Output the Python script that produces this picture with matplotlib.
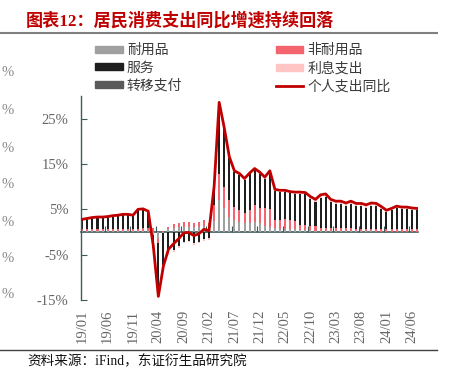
import numpy as np
import matplotlib
matplotlib.use('Agg')
import matplotlib.pyplot as plt
from matplotlib.patches import Patch
from matplotlib.lines import Line2D

plt.rcParams['font.family'] = ['Liberation Serif', 'Noto Sans CJK SC']

# monthly data 2019/01 - 2024/07, percent / percentage points
tick_labels = ['19/01', '19/06', '19/11', '20/04', '20/09', '21/02', '21/07',
               '21/12', '22/05', '22/10', '23/03', '23/08', '24/01', '24/06']

total = [2.8, 3.0, 3.2, 3.3, 3.3, 3.4, 3.6, 3.7, 3.9, 3.9, 3.7, 5.0, 5.1, 4.6,
         -3.0, -14.2, -7.5, -3.8, -2.6, -1.5, -0.2, -0.1, -0.8, -0.4, 0.6, 0.3,
         10.0, 28.6, 23.0, 16.6, 13.5, 12.9, 11.8, 13.0, 14.0, 13.2, 12.1, 13.5,
         9.4, 9.2, 9.2, 8.9, 8.8, 8.8, 8.7, 7.8, 7.2, 8.2, 8.4, 7.2,
         6.8, 6.8, 6.4, 6.8, 6.3, 6.3, 6.0, 6.4, 6.3, 5.6, 4.8, 5.2,
         5.7, 5.5, 5.5, 5.3, 5.2]

durables = [0.2, 0.2, 0.2, 0.2, 0.3, 0.3, 0.3, 0.3, 0.3, 0.2, 0.2, 0.2, 0.3, 0.3,
            -0.7, -1.6, -0.2, 0.6, 0.9, 1.0, 1.1, 1.1, 1.0, 1.0, 1.4, 1.0,
            2.5, 7.0, 5.2, 3.4, 2.6, 2.3, 1.9, 1.9, 2.3, 1.9, 1.3, 1.2,
            0.8, 0.7, 0.7, 0.7, 0.6, 0.5, 0.4, 0.4, 0.3, 0.3, 0.2, 0.2,
            0.2, 0.2, 0.3, 0.2, 0.2, 0.2, 0.2, 0.2, 0.1, 0.1, 0.1, 0.1,
            0.1, 0.1, 0.1, 0.1, 0.1]

nondurables = [0.4, 0.4, 0.4, 0.4, 0.4, 0.4, 0.4, 0.4, 0.4, 0.4, 0.4, 0.5, 0.5, 0.5,
               0.8, -0.9, 0.2, 0.6, 0.9, 1.0, 1.2, 1.1, 1.0, 1.1, 1.2, 1.0,
               3.5, 5.9, 4.8, 3.6, 2.9, 2.5, 2.2, 2.9, 3.7, 3.4, 3.9, 3.8,
               1.8, 2.0, 2.1, 2.0, 1.9, 1.1, 1.1, 1.0, 1.0, 0.6, 0.6, 0.6,
               0.6, 0.6, 0.5, 0.6, 0.5, 0.5, 0.5, 0.5, 0.5, 0.5, 0.5, 0.5,
               0.5, 0.5, 0.5, 0.5, 0.5]

services = [2.0, 2.2, 2.4, 2.5, 2.4, 2.5, 2.7, 2.8, 3.0, 3.1, 2.9, 4.1, 4.1, 3.6,
            -2.9, -11.3, -7.1, -4.6, -4.0, -3.1, -2.1, -1.9, -2.4, -2.1, -1.6, -1.4,
            3.7, 15.3, 12.7, 9.3, 7.7, 7.8, 7.4, 7.9, 7.7, 7.6, 6.6, 8.2,
            6.5, 6.2, 6.1, 5.9, 5.9, 6.8, 6.8, 5.9, 5.4, 6.7, 7.0, 5.8,
            5.4, 5.4, 5.0, 5.4, 5.0, 5.0, 4.7, 5.1, 5.2, 4.5, 3.8, 4.2,
            4.7, 4.5, 4.5, 4.3, 4.2]

interest = [0.1, 0.1, 0.1, 0.1, 0.1, 0.1, 0.1, 0.1, 0.1, 0.1, 0.1, 0.1, 0.2, 0.1,
            -0.1, -0.3, -0.4, -0.4, -0.4, -0.4, -0.4, -0.4, -0.4, -0.4, -0.4, -0.3,
            0.2, 0.3, 0.2, 0.2, 0.2, 0.2, 0.2, 0.2, 0.2, 0.2, 0.2, 0.2,
            0.2, 0.2, 0.2, 0.2, 0.3, 0.3, 0.3, 0.4, 0.4, 0.5, 0.5, 0.5,
            0.5, 0.5, 0.5, 0.5, 0.5, 0.5, 0.5, 0.5, 0.4, 0.4, 0.3, 0.3,
            0.3, 0.3, 0.3, 0.3, 0.3]

transfers = [0.1] * 14 + [-0.1, -0.1] + [0.0] * 10 + [0.1] * 41

AXIS_COLOR = '#3f5a5a'
LABEL_COLOR = '#666666'

series = [
    ('耐用品', durables, '#a0a0a0'),
    ('非耐用品', nondurables, '#f4646e'),
    ('服务', services, '#1e1e1e'),
    ('利息支出', interest, '#ffc4c4'),
    ('转移支付', transfers, '#5a5a5a'),
]

n = len(total)
x = np.arange(n)

fig = plt.figure(figsize=(4.52, 3.78), dpi=100)
ax = fig.add_axes([81 / 452, 78 / 378, (418.4 - 81) / 452, 204 / 378])

# stacked bars, positives upward and negatives downward from zero
pos_base = np.zeros(n)
neg_base = np.zeros(n)
for name, vals, color in series:
    vals = np.array(vals, dtype=float)
    bottom = np.where(vals >= 0, pos_base, neg_base)
    ax.bar(x, vals, bottom=bottom, width=0.4, color=color, linewidth=0, zorder=2)
    pos_base += np.where(vals >= 0, vals, 0)
    neg_base += np.where(vals < 0, vals, 0)

ax.plot(x, total, color='#c00000', lw=2.0, zorder=5, solid_joinstyle='round')

ax.set_xlim(-0.256, 66.3)
ax.set_ylim(-15, 30)

for side in ['top', 'right', 'bottom']:
    ax.spines[side].set_visible(False)
ax.spines['left'].set_color(AXIS_COLOR)
ax.spines['left'].set_linewidth(1.0)

yticks = [-15, -5, 5, 15, 25]
ax.set_yticks(yticks)
ax.set_yticklabels([f'{v}%' for v in yticks])
ax.tick_params(axis='y', direction='in', length=4, pad=9, color=AXIS_COLOR,
               labelcolor=LABEL_COLOR, labelsize=10.5)

ax.set_xticks(range(0, n, 5))
ax.set_xticklabels(tick_labels, rotation=90)
ax.tick_params(axis='x', length=0, pad=7, labelcolor=LABEL_COLOR, labelsize=10.5)

# zero line with category tick marks
zero_axis = ax.secondary_xaxis(15 / 45)
zero_axis.spines['bottom'].set_color(AXIS_COLOR)
zero_axis.spines['bottom'].set_linewidth(1.2)
zero_axis.set_xticks(np.arange(-0.5, n, 5))
zero_axis.tick_params(axis='x', direction='in', length=4, color=AXIS_COLOR,
                      labelbottom=False)

handles = [
    Patch(color=series[0][2], label=series[0][0]),
    Patch(color=series[2][2], label=series[2][0]),
    Patch(color=series[4][2], label=series[4][0]),
    Patch(color=series[1][2], label=series[1][0]),
    Patch(color=series[3][2], label=series[3][0]),
    Line2D([], [], color='#c00000', lw=2, label='个人支出同比'),
]
fig.legend(handles=handles, ncol=2, loc='upper left',
           bbox_to_anchor=(95 / 452, 1 - 44 / 378), frameon=False,
           borderpad=0, borderaxespad=0, fontsize=10, handlelength=2.0,
           handleheight=0.4, handletextpad=0.3, labelspacing=0.32,
           columnspacing=6.7, labelcolor='#3a3a3a')

# percent signs left over from a neighbouring chart at the left edge
for yy in [73, 111, 148, 185, 222, 258, 295]:
    fig.text(1 / 452, 1 - yy / 378, '%', ha='left', va='center',
             fontsize=10.5, color='#8a8a8a')

fig.text(26 / 452, 1 - 21 / 378, '图表12：居民消费支出同比增速持续回落',
         color='#c00000', fontsize=12.3, fontweight='bold', va='center')
fig.add_artist(Line2D([0, 437 / 452], [1 - 32.7 / 378] * 2, color='#808080', lw=1.5))
fig.add_artist(Line2D([0, 437 / 452], [1 - 350 / 378] * 2, color='#404040', lw=1.0))
fig.text(27 / 452, 1 - 362 / 378, '资料来源：iFind，东证衍生品研究院',
         fontsize=9.8, va='center', color='#111111')

fig.savefig('out.png', dpi=100)
